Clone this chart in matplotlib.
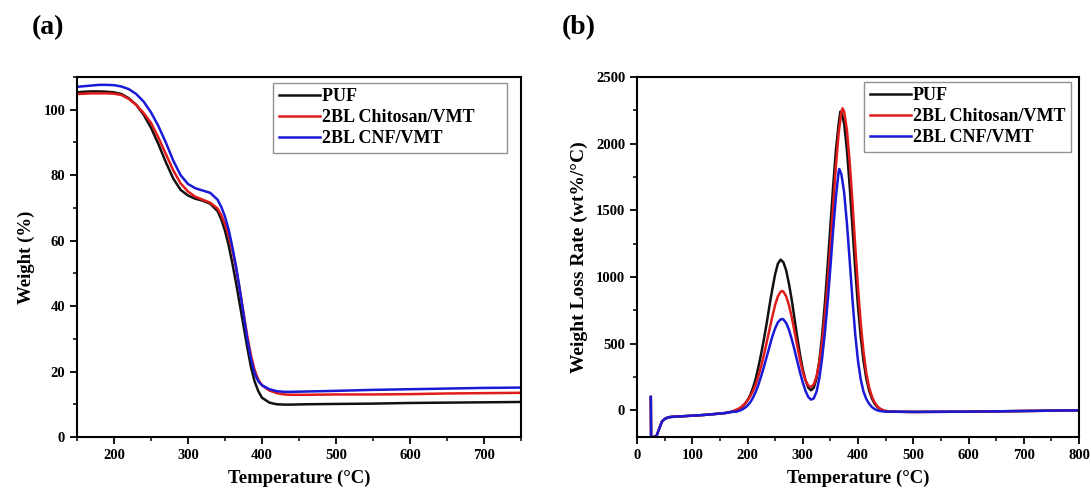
import matplotlib
matplotlib.use("Agg")
import matplotlib.pyplot as plt
from matplotlib.ticker import MultipleLocator

plt.rcParams['font.family'] = ['Liberation Serif', 'DejaVu Serif']
plt.rcParams['font.weight'] = 'bold'

labels = ['PUF', '2BL Chitosan/VMT', '2BL CNF/VMT']
colors = ['#111111', '#e01b1b', '#1a1ad6']

# (a) TGA curves
temp_tga = [150, 160, 170, 180, 190, 200, 210, 220, 230, 240, 250, 260, 270, 280, 290, 300,
            310, 320, 330, 340, 345, 350, 355, 360, 365, 370, 375, 380, 385, 390, 395, 400,
            410, 420, 430, 440, 460, 500, 550, 600, 650, 700, 750]
w_puf = [105.3, 105.5, 105.6, 105.6, 105.5, 105.3, 104.8, 103.5, 101.5, 98.5, 94.5, 89.5, 84, 79,
         75.5, 73.8, 72.8, 72.2, 71.3, 69.0, 66.5, 63, 58.5, 53, 47, 40.5, 34, 27.5, 21.5, 17.0,
         14.0, 12.0, 10.5, 10.0, 9.9, 9.9, 10.0, 10.1, 10.2, 10.4, 10.5, 10.6, 10.7]
w_chi = [104.8, 104.9, 105.0, 105.0, 105.0, 104.9, 104.5, 103.3, 101.5, 99.0, 96.0, 91.5, 86.5,
         81.5, 77.5, 75.0, 73.4, 72.5, 71.6, 69.8, 67.8, 65, 61.5, 57, 51.5, 45, 38, 31, 25, 20.5,
         17.5, 15.8, 14.2, 13.4, 13.0, 12.9, 12.9, 13.0, 13.0, 13.1, 13.3, 13.4, 13.5]
w_cnf = [107.0, 107.2, 107.4, 107.6, 107.6, 107.5, 107.1, 106.3, 104.8, 102.5, 99.2, 95, 90, 84.5,
         80.0, 77.3, 76.0, 75.3, 74.6, 72.5, 70.3, 67.3, 63.3, 58, 52, 45, 37.5, 30, 24, 19.5,
         17.0, 15.8, 14.6, 14.0, 13.8, 13.8, 13.9, 14.1, 14.4, 14.6, 14.8, 15.0, 15.1]

# (b) DTG curves
start_t = [25, 25.5, 30, 35, 40, 45, 50, 55, 60, 70, 80, 100, 120, 140, 160, 170]
start_r = [100, -200, -200, -195, -140, -85, -65, -55, -50, -47, -45, -40, -35, -28, -20, -12]
end_t = [460, 500, 600, 700, 800]
end_r = [-10, -12, -10, -5, 0]

mid_puf_t = [180, 185, 190, 195, 200, 205, 210, 215, 220, 225, 230, 235, 240, 245, 250, 255, 260,
             265, 270, 275, 280, 285, 290, 295, 300, 305, 310, 315, 320, 325, 330, 335, 340, 345,
             350, 355, 360, 365, 368, 370, 375, 380, 385, 390, 395, 400, 405, 410, 415, 420, 425,
             430, 435, 440, 445, 450]
mid_puf_r = [0, 10, 25, 45, 75, 115, 170, 240, 330, 430, 540, 660, 790, 910, 1020, 1100, 1130,
             1110, 1050, 950, 830, 690, 550, 420, 310, 225, 170, 150, 170, 240, 370, 560, 800, 1080,
             1380, 1680, 1950, 2150, 2240, 2235, 2150, 1950, 1680, 1370, 1060, 780, 550, 370, 240,
             150, 90, 50, 25, 10, 0, -5]

mid_chi_t = [180, 185, 190, 195, 200, 205, 210, 215, 220, 225, 230, 235, 240, 245, 250, 255, 260,
             263, 265, 270, 275, 280, 285, 290, 295, 300, 305, 310, 315, 320, 325, 330, 335, 340,
             345, 350, 355, 360, 365, 370, 372, 375, 380, 385, 390, 395, 400, 405, 410, 415, 420,
             425, 430, 435, 440, 445, 450]
mid_chi_r = [5, 15, 30, 50, 75, 105, 145, 195, 260, 335, 420, 515, 610, 705, 790, 855, 890, 895,
             890, 855, 790, 700, 595, 485, 380, 290, 225, 185, 175, 195, 255, 360, 510, 710, 950,
             1230, 1530, 1830, 2080, 2240, 2265, 2240, 2100, 1860, 1560, 1230, 920, 650, 440, 280,
             175, 105, 60, 30, 12, 2, -5]

mid_cnf_t = [180, 185, 190, 195, 200, 205, 210, 215, 220, 225, 230, 235, 240, 245, 250, 255, 260,
             263, 265, 270, 275, 280, 285, 290, 295, 300, 305, 310, 315, 320, 325, 330, 335, 340,
             345, 350, 355, 360, 365, 366, 370, 375, 380, 385, 390, 395, 400, 405, 410, 415, 420,
             425, 430, 435, 440, 445, 450]
mid_cnf_r = [-10, -3, 5, 18, 35, 60, 95, 140, 195, 260, 330, 405, 480, 555, 615, 660, 682, 685,
             682, 655, 605, 535, 455, 370, 285, 210, 145, 100, 80, 90, 140, 240, 390, 580, 810,
             1070, 1350, 1600, 1790, 1810, 1770, 1630, 1400, 1120, 830, 570, 370, 230, 140, 85, 50,
             25, 10, 0, -5, -8, -10]

fig = plt.figure(figsize=(10.91, 4.92), dpi=100)
# axes boxes in pixels: (a) x 77-521, (b) x 637-1079, y 77-437
ax1 = fig.add_axes([77 / 1091, 55 / 492, 444 / 1091, 360 / 492])
ax2 = fig.add_axes([637 / 1091, 55 / 492, 442 / 1091, 360 / 492])

for w, c, lab in zip([w_puf, w_chi, w_cnf], colors, labels):
    ax1.plot(temp_tga, w, color=c, lw=1.8, label=lab + '\u2002' * 3)

for mt, mr, c, lab in zip([mid_puf_t, mid_chi_t, mid_cnf_t], [mid_puf_r, mid_chi_r, mid_cnf_r],
                          colors, labels):
    ax2.plot(start_t + mt + end_t, start_r + mr + end_r, color=c, lw=1.8, label=lab)

ax1.set_xlim(150, 750)
ax1.set_ylim(0, 110)
ax1.xaxis.set_major_locator(MultipleLocator(100))
ax1.xaxis.set_minor_locator(MultipleLocator(50))
ax1.yaxis.set_major_locator(MultipleLocator(20))
ax1.yaxis.set_minor_locator(MultipleLocator(10))
ax1.set_ylabel('Weight (%)', fontsize=13.5, fontweight='bold', labelpad=6)

ax2.set_xlim(0, 800)
ax2.set_ylim(-200, 2500)
ax2.xaxis.set_major_locator(MultipleLocator(100))
ax2.xaxis.set_minor_locator(MultipleLocator(50))
ax2.yaxis.set_major_locator(MultipleLocator(500))
ax2.yaxis.set_minor_locator(MultipleLocator(250))
ax2.set_ylabel('Weight Loss Rate (wt%/°C)', fontsize=14, fontweight='bold', labelpad=6)

leg_anchor = {ax1: ((507 - 77) / 444, (437 - 83) / 360, 0.1),
              ax2: ((1071 - 637) / 442, (437 - 82) / 360, 0.3)}

for ax in (ax1, ax2):
    ax.set_xlabel('Temperature (°C)', fontsize=13.5, fontweight='bold', labelpad=6)
    for s in ax.spines.values():
        s.set_linewidth(1.5)
    ax.tick_params(which='major', direction='out', length=5, width=1.3, labelsize=10.5)
    ax.tick_params(which='minor', direction='out', length=3, width=1.1)
    for t in ax.get_xticklabels() + ax.get_yticklabels():
        t.set_fontweight('bold')
    ax_x, ax_y, pad = leg_anchor[ax]
    leg = ax.legend(loc='upper right', bbox_to_anchor=(ax_x, ax_y), handlelength=2.3,
                    handletextpad=0.1, borderpad=0.3, borderaxespad=0, labelspacing=0.22,
                    fancybox=False, prop={'weight': 'bold', 'size': 13})
    leg.get_frame().set_edgecolor('#777777')
    leg.get_frame().set_linewidth(1.0)

fig.text(0.029, 0.944, '(a)', fontsize=20, fontweight='bold', va='center')
fig.text(0.515, 0.944, '(b)', fontsize=20, fontweight='bold', va='center')

fig.savefig('out.png', dpi=100)
